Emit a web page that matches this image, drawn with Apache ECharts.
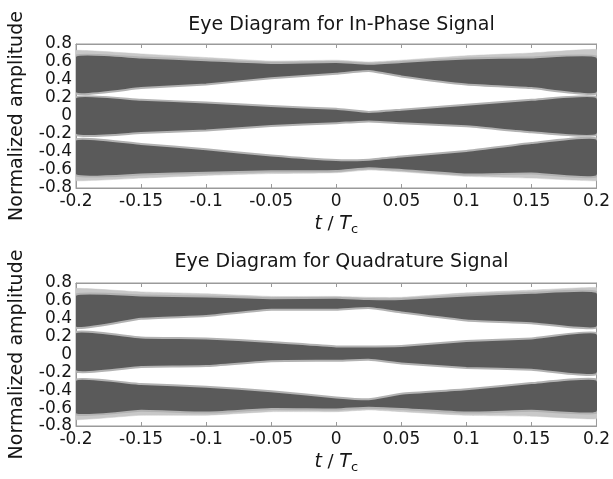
<!DOCTYPE html>
<html>
<head>
<meta charset="utf-8">
<script src="https://cdn.jsdelivr.net/npm/echarts@6/dist/echarts.min.js"></script>
<style>html,body{margin:0;padding:0;background:#fff}#c{width:613px;height:479px}</style>
</head>
<body>
<div id="c"></div>
<script>
// ---- data (t / Tc sample positions and band edges) ----
const tSamples = [-0.2, -0.15, -0.1, -0.05, 0, 0.025, 0.05, 0.1, 0.15, 0.2];

// In-phase eye diagram: boundaries of the three dense trace bands
const iOuterHi = [0.73, 0.69, 0.65, 0.61, 0.62, 0.60, 0.62, 0.67, 0.70, 0.74];
const iTopHi   = [0.67, 0.65, 0.62, 0.59, 0.60, 0.58, 0.60, 0.64, 0.65, 0.66];
const iTopLo   = [0.25, 0.31, 0.35, 0.42, 0.47, 0.50, 0.44, 0.35, 0.31, 0.25];
const iMidHi   = [0.21, 0.18, 0.15, 0.11, 0.08, 0.045, 0.07, 0.125, 0.18, 0.21];
const iMidLo   = [-0.21, -0.19, -0.16, -0.11, -0.08, -0.06, -0.08, -0.115, -0.18, -0.21];
const iBotHi   = [-0.26, -0.31, -0.37, -0.44, -0.49, -0.485, -0.45, -0.39, -0.30, -0.25];
const iBotLo   = [-0.66, -0.65, -0.63, -0.615, -0.61, -0.58, -0.60, -0.65, -0.64, -0.67];
const iOuterLo = [-0.72, -0.69, -0.66, -0.64, -0.63, -0.60, -0.62, -0.67, -0.69, -0.72];

// Quadrature eye diagram
const qOuterHi = [0.74, 0.70, 0.68, 0.65, 0.65, 0.64, 0.64, 0.69, 0.72, 0.75];
const qTopHi   = [0.67, 0.66, 0.65, 0.63, 0.635, 0.62, 0.62, 0.66, 0.69, 0.70];
const qTopLo   = [0.30, 0.40, 0.43, 0.50, 0.50, 0.52, 0.47, 0.38, 0.35, 0.30];
const qMidHi   = [0.25, 0.19, 0.18, 0.14, 0.09, 0.09, 0.095, 0.15, 0.18, 0.24];
const qMidLo   = [-0.19, -0.14, -0.13, -0.075, -0.07, -0.06, -0.10, -0.15, -0.17, -0.22];
const qBotHi   = [-0.28, -0.33, -0.36, -0.41, -0.48, -0.50, -0.44, -0.39, -0.32, -0.28];
const qBotLo   = [-0.67, -0.63, -0.65, -0.61, -0.615, -0.595, -0.61, -0.65, -0.63, -0.65];
const qOuterLo = [-0.73, -0.68, -0.68, -0.64, -0.64, -0.62, -0.64, -0.68, -0.69, -0.72];

const xTicks = { min: -0.2, max: 0.2, interval: 0.05 };
const yTicks = { min: -0.8, max: 0.8, interval: 0.2 };
const titles = ['Eye Diagram for In-Phase Signal', 'Eye Diagram for Quadrature Signal'];
const yName = 'Normalized amplitude';

// ---- chart ----
const FONT = 'DejaVu Sans';
const DARK = '#5a5a5a';
const LIGHT = '#c8c8c8';
const EDGE = '#b2b2b2';
const FRAME = '#9a9a9a';
const TXT = '#161616';

const plots = [
  { bands: [
      { hi: iOuterHi, lo: iTopHi, fill: LIGHT, stroke: null },
      { hi: iBotLo, lo: iOuterLo, fill: LIGHT, stroke: null },
      { hi: iTopHi, lo: iTopLo, fill: DARK, stroke: EDGE },
      { hi: iMidHi, lo: iMidLo, fill: DARK, stroke: EDGE },
      { hi: iBotHi, lo: iBotLo, fill: DARK, stroke: EDGE } ] },
  { bands: [
      { hi: qOuterHi, lo: qTopHi, fill: LIGHT, stroke: null },
      { hi: qBotLo, lo: qOuterLo, fill: LIGHT, stroke: null },
      { hi: qTopHi, lo: qTopLo, fill: DARK, stroke: EDGE },
      { hi: qMidHi, lo: qMidLo, fill: DARK, stroke: EDGE },
      { hi: qBotHi, lo: qBotLo, fill: DARK, stroke: EDGE } ] }
];

const grids = [
  { left: 76, right: 16, top: 44, height: 144 },
  { left: 76, right: 16, top: 283, height: 143 }
];

function frameAxis(extra) {
  return Object.assign({
    type: 'value',
    axisLine: { show: true, onZero: false, lineStyle: { color: FRAME } },
    axisTick: { show: true, inside: true, length: 4, lineStyle: { color: FRAME } },
    splitLine: { show: false }
  }, extra);
}

const xAxes = [], yAxes = [], series = [], titleOpts = [];
grids.forEach((g, k) => {
  g.show = true; g.borderColor = FRAME; g.borderWidth = 1; g.backgroundColor = '#fff';
  titleOpts.push({
    text: titles[k], left: 336.5, textAlign: 'center', top: k === 0 ? 11 : 248,
    textStyle: { fontFamily: FONT, fontSize: 19, fontWeight: 'normal', color: TXT }
  });
  xAxes.push(frameAxis({
    gridIndex: k, position: 'bottom', min: xTicks.min, max: xTicks.max, interval: xTicks.interval,
    axisLabel: { margin: 5, fontFamily: FONT, fontSize: 17, color: TXT },
    name: '{it|t} / {it|T}{sub|c}', nameLocation: 'middle', nameGap: 25,
    nameTextStyle: { fontFamily: FONT, fontSize: 18, color: TXT,
      rich: { it: { fontFamily: FONT, fontSize: 19, fontStyle: 'italic', color: TXT },
              sub: { fontFamily: FONT, fontSize: 13, color: TXT, padding: [10, 0, 0, 0] } } }
  }));
  xAxes.push(frameAxis({
    gridIndex: k, position: 'top', min: xTicks.min, max: xTicks.max, interval: xTicks.interval,
    axisLabel: { show: false }
  }));
  yAxes.push(frameAxis({
    gridIndex: k, position: 'left', min: yTicks.min, max: yTicks.max, interval: yTicks.interval,
    axisLabel: { margin: 4, fontFamily: FONT, fontSize: 17, color: TXT, lineHeight: 17 },
    name: yName, nameLocation: 'middle', nameGap: 49, nameRotate: 90,
    nameTextStyle: { fontFamily: FONT, fontSize: 19, color: TXT }
  }));
  yAxes.push(frameAxis({
    gridIndex: k, position: 'right', min: yTicks.min, max: yTicks.max, interval: yTicks.interval,
    axisLabel: { show: false }
  }));
  const bands = plots[k].bands;
  series.push({
    type: 'custom', xAxisIndex: 2 * k, yAxisIndex: 2 * k, clip: true, silent: true, z: 1,
    data: bands.map((b, i) => [0, 0, i]),
    encode: { x: 0, y: 1 },
    renderItem: function (params, api) {
      const b = bands[params.dataIndex];
      const pts = [];
      tSamples.forEach((t, i) => pts.push(api.coord([t, b.hi[i]])));
      for (let i = tSamples.length - 1; i >= 0; i--) pts.push(api.coord([tSamples[i], b.lo[i]]));
      return {
        type: 'polygon', shape: { points: pts, smooth: 0.15 },
        style: { fill: b.fill, stroke: b.stroke || b.fill, lineWidth: b.stroke ? 2 : 0.5 }
      };
    }
  });
});

const chart = echarts.init(document.getElementById('c'), null, { renderer: 'canvas' });
chart.setOption({
  animation: false,
  backgroundColor: '#fff',
  title: titleOpts,
  grid: grids,
  xAxis: xAxes,
  yAxis: yAxes,
  series: series
});
</script>
</body>
</html>
